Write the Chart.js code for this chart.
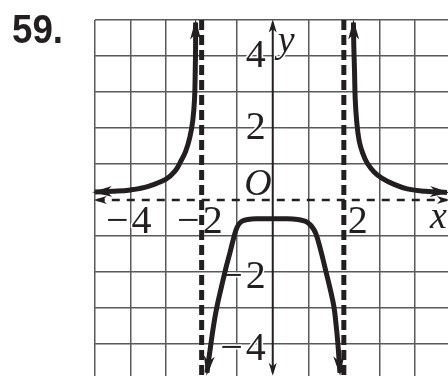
<!DOCTYPE html>
<html>
<head>
<meta charset="utf-8">
<script src="https://cdn.jsdelivr.net/npm/chart.js@4/dist/chart.umd.min.js"></script>
<style>
  html, body { margin: 0; padding: 0; background: #fff; }
  #wrap { width: 448px; height: 376px; position: relative; }
</style>
</head>
<body>
<div id="wrap"><canvas id="graph"></canvas></div>
<script>
// Branches of the curve (graph units)
const leftX = [-5, -4.5, -4, -3.5, -3, -2.75, -2.6, -2.45, -2.33, -2.25, -2.2, -2.18, -2.17, -2.17];
const leftY = [0.22, 0.24, 0.28, 0.38, 0.58, 0.8, 1.05, 1.35, 1.75, 2.2, 2.8, 3.6, 4.3, 4.93];

const midX = [-1.85, -1.74, -1.65, -1.56, -1.44, -1.32, -1.2, -1.1, -1.0, -0.88, -0.7, -0.4, 0, 0.4, 0.7, 0.88, 0.97, 1.1, 1.21, 1.35, 1.49, 1.61, 1.72, 1.78, 1.83, 1.89];
const midY = [-4.8, -4.0, -3.4, -2.92, -2.4, -1.9, -1.45, -1.06, -0.75, -0.6, -0.54, -0.52, -0.52, -0.52, -0.54, -0.58, -0.62, -0.74, -0.93, -1.4, -1.96, -2.45, -2.96, -3.45, -3.96, -4.8];

const rightX = [2.27, 2.28, 2.3, 2.32, 2.36, 2.43, 2.53, 2.66, 2.85, 3.08, 3.4, 3.78, 4.3, 4.9];
const rightY = [4.93, 4.3, 3.6, 2.8, 2.2, 1.65, 1.3, 1.02, 0.78, 0.6, 0.44, 0.31, 0.24, 0.21];

// Asymptotes and axes
const verticalAsymptotes = [-2, 2];
const horizontalAsymptote = 0;
const xRange = [-5, 4.93];
const yRange = [-4.89, 5];
const xAxisEnds = [-4.95, 4.9];
const yAxisEnds = [-4.8, 4.93];

// Tick labels
const xTickValues = [-4, -2, 2];
const xTickLabels = ['−4', '−2', '2'];
const yTickValues = [4, 2, -2, -4];
const yTickLabels = ['4', '2', '−2', '−4'];

const ink = '#231f20';
const gridColor = '#5a5a5c';

function toPoints(xs, ys) {
    return xs.map((x, i) => ({ x: x, y: ys[i] }));
}

function drawArrow(ctx, end, prev, len, wid) {
    const ang = Math.atan2(end.y - prev.y, end.x - prev.x);
    ctx.save();
    ctx.translate(end.x, end.y);
    ctx.rotate(ang);
    ctx.translate(3, 0);
    ctx.beginPath();
    ctx.moveTo(0, 0);
    ctx.lineTo(-len, -wid / 2);
    ctx.lineTo(-len * 0.72, 0);
    ctx.lineTo(-len, wid / 2);
    ctx.closePath();
    ctx.fillStyle = ink;
    ctx.fill();
    ctx.restore();
}

const arrowPlugin = {
    id: 'arrows',
    afterDatasetsDraw(chart) {
        const ctx = chart.ctx;
        chart.data.datasets.forEach((ds, i) => {
            if (!ds.arrowLen) return;
            const pts = chart.getDatasetMeta(i).data;
            const n = pts.length;
            if (ds.arrowStart) drawArrow(ctx, pts[0], pts[1], ds.arrowLen, ds.arrowWid);
            if (ds.arrowEnd) drawArrow(ctx, pts[n - 1], pts[n - 2], ds.arrowLen, ds.arrowWid);
        });
    }
};

function haloText(ctx, text, x, y) {
    ctx.strokeText(text, x, y);
    ctx.fillText(text, x, y);
}

const labelPlugin = {
    id: 'labels',
    beforeDatasetsDraw(chart) {
        const ctx = chart.ctx;
        const xs = chart.scales.x;
        const ys = chart.scales.y;
        const x0 = xs.getPixelForValue(0);
        const y0 = ys.getPixelForValue(0);

        ctx.save();
        ctx.fillStyle = ink;
        ctx.strokeStyle = '#fff';
        ctx.lineWidth = 3;
        ctx.lineJoin = 'round';
        ctx.textBaseline = 'alphabetic';
        ctx.font = '40px "Liberation Serif"';

        // x tick labels: digit sits just right of its grid line, minus hangs to the left
        xTickValues.forEach((v, i) => {
            const px = xs.getPixelForValue(v);
            const digit = xTickLabels[i].replace('−', '');
            const left = px + (v > 0 ? 4 : 1);
            ctx.textAlign = 'left';
            haloText(ctx, digit, left, y0 + 33);
            if (xTickLabels[i].startsWith('−')) {
                ctx.textAlign = 'right';
                haloText(ctx, '−', left - 3, y0 + 33);
            }
        });

        // y tick labels: right aligned left of the y axis
        yTickValues.forEach((v, i) => {
            const py = ys.getPixelForValue(v);
            const digit = yTickLabels[i].replace('−', '');
            const right = x0 - 7;
            const base = py + (v > 0 ? 11 : 16);
            ctx.textAlign = 'right';
            haloText(ctx, digit, right, base);
            if (yTickLabels[i].startsWith('−')) {
                const w = ctx.measureText(digit).width;
                haloText(ctx, '−', right - w - 3, base);
            }
        });

        // axis names and origin
        ctx.font = 'italic 38px "Liberation Serif"';
        ctx.textAlign = 'right';
        haloText(ctx, 'O', x0 - 1, y0 - 5);
        ctx.textAlign = 'left';
        haloText(ctx, 'y', x0 + 5, ys.getPixelForValue(4) - 4);
        ctx.textAlign = 'center';
        haloText(ctx, 'x', xs.getPixelForValue(4.66), y0 + 28);
        ctx.restore();
    },
    afterDraw(chart) {
        const ctx = chart.ctx;
        ctx.save();
        ctx.fillStyle = ink;
        ctx.font = 'bold 41px "Liberation Sans"';
        ctx.textAlign = 'left';
        ctx.textBaseline = 'alphabetic';
        ctx.fillText('59.', 12, 43, 51);
        ctx.restore();
    }
};

const hiddenXGrid = [0].concat(verticalAsymptotes);
const hiddenYGrid = [horizontalAsymptote];

const datasets = [];

verticalAsymptotes.forEach(a => {
    datasets.push({
        data: [{ x: a, y: yRange[1] }, { x: a, y: yRange[0] }],
        borderColor: ink,
        borderWidth: 5,
        borderDash: [10, 5],
        tension: 0
    });
});

datasets.push({
    data: [{ x: xAxisEnds[0], y: horizontalAsymptote }, { x: xAxisEnds[1], y: horizontalAsymptote }],
    borderColor: ink,
    borderWidth: 2.5,
    borderDash: [8, 7],
    tension: 0,
    arrowStart: true, arrowEnd: true, arrowLen: 13, arrowWid: 8
});

datasets.push({
    data: [{ x: 0, y: yAxisEnds[1] }, { x: 0, y: yAxisEnds[0] }],
    borderColor: ink,
    borderWidth: 2,
    tension: 0,
    arrowStart: true, arrowEnd: true, arrowLen: 13, arrowWid: 8
});

[[leftX, leftY], [midX, midY], [rightX, rightY]].forEach(([xs, ys]) => {
    datasets.push({
        data: toPoints(xs, ys),
        borderColor: ink,
        borderWidth: 5,
        tension: 0.4,
        arrowStart: true, arrowEnd: true, arrowLen: 20, arrowWid: 11
    });
});

new Chart(document.getElementById('graph'), {
    type: 'scatter',
    data: { datasets: datasets },
    options: {
        responsive: true,
        maintainAspectRatio: false,
        devicePixelRatio: 1,
        animation: false,
        events: [],
        layout: { padding: { left: 95, top: 20, right: 0, bottom: 0 } },
        elements: { point: { radius: 0, hoverRadius: 0 } },
        datasets: { scatter: { showLine: true, clip: false } },
        plugins: { legend: { display: false }, tooltip: { enabled: false } },
        scales: {
            x: {
                type: 'linear',
                min: xRange[0],
                max: xRange[1],
                border: { display: false },
                grid: {
                    drawTicks: false,
                    lineWidth: 1.5,
                    color: c => (c.tick && hiddenXGrid.includes(c.tick.value)) ? 'rgba(0,0,0,0)' : gridColor
                },
                ticks: { display: false, stepSize: 1, includeBounds: false }
            },
            y: {
                type: 'linear',
                min: yRange[0],
                max: yRange[1],
                border: { display: false },
                grid: {
                    drawTicks: false,
                    lineWidth: 1.5,
                    color: c => (c.tick && hiddenYGrid.includes(c.tick.value)) ? 'rgba(0,0,0,0)' : gridColor
                },
                ticks: { display: false, stepSize: 1, includeBounds: false }
            }
        }
    },
    plugins: [labelPlugin, arrowPlugin]
});
</script>
</body>
</html>
